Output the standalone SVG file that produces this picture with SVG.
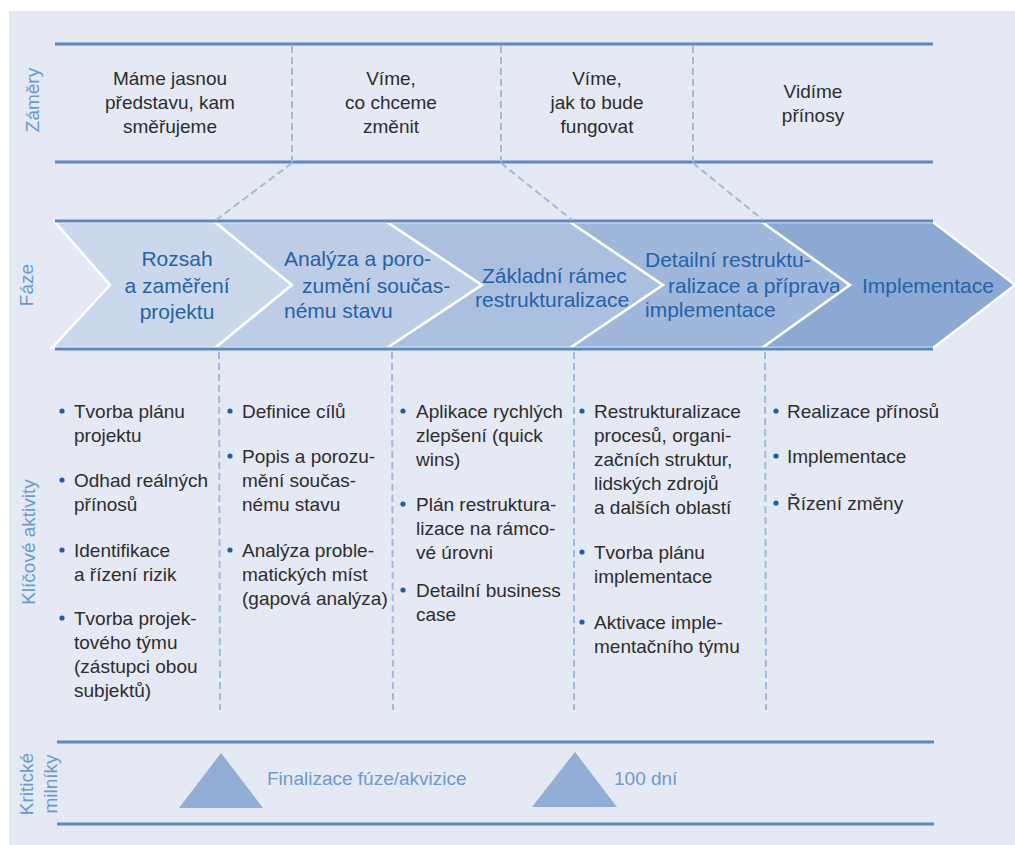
<svg xmlns="http://www.w3.org/2000/svg" width="1015" height="845" viewBox="0 0 1015 845">
<style>
.lbl{font-family:"Liberation Sans",Arial,sans-serif;font-size:19px;fill:#6a9ad0;text-anchor:middle}
.top{font-family:"Liberation Sans",Arial,sans-serif;font-size:19px;fill:#2d2d2d;text-anchor:middle}
.ph{font-family:"Liberation Sans",Arial,sans-serif;font-size:21px;fill:#2462a8}
.act{font-family:"Liberation Sans",Arial,sans-serif;font-size:19px;fill:#2d2d2d}
.ms{font-family:"Liberation Sans",Arial,sans-serif;font-size:19px;fill:#6f98cc}
.rule{stroke:#5a89c3;stroke-width:3;fill:none}
.dash{stroke:#a2badd;stroke-width:2;stroke-dasharray:7 4;fill:none}
.chev{stroke:#ffffff;stroke-width:2.5;stroke-linejoin:miter}
.dot{fill:#1f5fa8}
.tri{fill:#93aed6}
</style>
<rect x="0" y="0" width="1015" height="845" fill="#ffffff"/>
<rect x="9" y="11" width="1006" height="834" fill="#e4e9f4"/>

<g id="lane-labels">
<text class="lbl" transform="translate(39,100) rotate(-90)">Záměry</text>
<text class="lbl" transform="translate(33,285) rotate(-90)">Fáze</text>
<text class="lbl" transform="translate(35,542) rotate(-90)">Klíčové aktivity</text>
<text class="lbl" transform="translate(33,784) rotate(-90)">Kritické</text>
<text class="lbl" transform="translate(57,784) rotate(-90)">milníky</text>
</g>

<g id="phases">
<g id="phase-1">
<polygon class="chev" fill="#cbd8eb" points="55,222 215,222 292,285 215,348 52,348 110,285"/>
<text class="ph" text-anchor="middle"><tspan x="177" y="266">Rozsah</tspan><tspan x="177" y="293">a zaměření</tspan><tspan x="177" y="319">projektu</tspan></text>
</g>
<g id="phase-2">
<polygon class="chev" fill="#bdcde5" points="215,222 387,222 482,285 387,348 215,348 292,285"/>
<text class="ph"><tspan x="284" y="266">Analýza a poro-</tspan><tspan x="302" y="293">zumění součas-</tspan><tspan x="284" y="318">nému stavu</tspan></text>
</g>
<g id="phase-3">
<polygon class="chev" fill="#abc0df" points="387,222 570,222 663,285 570,348 387,348 482,285"/>
<text class="ph"><tspan x="482" y="283">Základní rámec</tspan><tspan x="475" y="307">restrukturalizace</tspan></text>
</g>
<g id="phase-4">
<polygon class="chev" fill="#9fb7da" points="570,222 762,222 850,285 762,348 570,348 663,285"/>
<text class="ph"><tspan x="645" y="267">Detailní restruktu-</tspan><tspan x="668" y="293">ralizace a příprava</tspan><tspan x="645" y="317">implementace</tspan></text>
</g>
<g id="phase-5">
<polygon class="chev" fill="#8ba9d2" points="762,222 933,222 1015,285 933,348 762,348 850,285"/>
<text class="ph" x="862" y="293">Implementace</text>
</g>
</g>

<g id="connectors">
<line class="rule" x1="55" y1="44" x2="933" y2="44"/>
<line class="rule" x1="55" y1="162" x2="933" y2="162"/>
<line class="rule" x1="55" y1="221" x2="933" y2="221"/>
<line class="rule" x1="55" y1="349" x2="933" y2="349"/>
<line class="rule" x1="57" y1="742" x2="934" y2="742"/>
<line class="rule" x1="57" y1="824" x2="934" y2="824"/>
<line class="dash" x1="292" y1="46" x2="292" y2="162"/>
<line class="dash" x1="501" y1="46" x2="501" y2="162"/>
<line class="dash" x1="693" y1="46" x2="693" y2="162"/>
<line class="dash" x1="292" y1="163" x2="216" y2="220"/>
<line class="dash" x1="501" y1="163" x2="572" y2="220"/>
<line class="dash" x1="693" y1="163" x2="763" y2="220"/>
<line class="dash" x1="219" y1="352" x2="220" y2="710"/>
<line class="dash" x1="392" y1="352" x2="393" y2="710"/>
<line class="dash" x1="574" y1="352" x2="574" y2="710"/>
<line class="dash" x1="765" y1="352" x2="766" y2="710"/>
</g>

<g id="intents">
<g id="intent-1"><text class="top"><tspan x="170" y="85">Máme jasnou</tspan><tspan x="170" y="109">představu, kam</tspan><tspan x="170" y="133">směřujeme</tspan></text></g>
<g id="intent-2"><text class="top"><tspan x="391" y="85">Víme,</tspan><tspan x="391" y="109">co chceme</tspan><tspan x="391" y="133">změnit</tspan></text></g>
<g id="intent-3"><text class="top"><tspan x="597" y="85">Víme,</tspan><tspan x="597" y="109">jak to bude</tspan><tspan x="597" y="133">fungovat</tspan></text></g>
<g id="intent-4"><text class="top"><tspan x="813" y="98">Vidíme</tspan><tspan x="813" y="122">přínosy</tspan></text></g>
</g>

<g id="activities">
<g id="activities-1">
<circle class="dot" cx="62" cy="411" r="2.6"/>
<circle class="dot" cx="62" cy="480" r="2.6"/>
<circle class="dot" cx="62" cy="550" r="2.6"/>
<circle class="dot" cx="62" cy="618" r="2.6"/>
<text class="act"><tspan x="74" y="418">Tvorba plánu</tspan><tspan x="74" y="442">projektu</tspan><tspan x="74" y="487">Odhad reálných</tspan><tspan x="74" y="511">přínosů</tspan><tspan x="74" y="557">Identifikace</tspan><tspan x="74" y="581">a řízení rizik</tspan><tspan x="74" y="625">Tvorba projek-</tspan><tspan x="74" y="649">tového týmu</tspan><tspan x="74" y="673">(zástupci obou</tspan><tspan x="74" y="697">subjektů)</tspan></text>
</g>
<g id="activities-2">
<circle class="dot" cx="230" cy="411" r="2.6"/>
<circle class="dot" cx="230" cy="456" r="2.6"/>
<circle class="dot" cx="230" cy="550" r="2.6"/>
<text class="act"><tspan x="242" y="418">Definice cílů</tspan><tspan x="242" y="463">Popis a porozu-</tspan><tspan x="242" y="487">mění součas-</tspan><tspan x="242" y="511">nému stavu</tspan><tspan x="242" y="557">Analýza proble-</tspan><tspan x="242" y="581">matických míst</tspan><tspan x="242" y="605">(gapová analýza)</tspan></text>
</g>
<g id="activities-3">
<circle class="dot" cx="403" cy="411" r="2.6"/>
<circle class="dot" cx="403" cy="504" r="2.6"/>
<circle class="dot" cx="403" cy="590" r="2.6"/>
<text class="act"><tspan x="416" y="418">Aplikace rychlých</tspan><tspan x="416" y="442">zlepšení (quick</tspan><tspan x="416" y="466">wins)</tspan><tspan x="416" y="511">Plán restruktura-</tspan><tspan x="416" y="535">lizace na rámco-</tspan><tspan x="416" y="559">vé úrovni</tspan><tspan x="416" y="597">Detailní business</tspan><tspan x="416" y="621">case</tspan></text>
</g>
<g id="activities-4">
<circle class="dot" cx="582" cy="411" r="2.6"/>
<circle class="dot" cx="582" cy="552" r="2.6"/>
<circle class="dot" cx="582" cy="622" r="2.6"/>
<text class="act"><tspan x="594" y="418">Restrukturalizace</tspan><tspan x="594" y="442">procesů, organi-</tspan><tspan x="594" y="466">začních struktur,</tspan><tspan x="594" y="490">lidských zdrojů</tspan><tspan x="594" y="514">a dalších oblastí</tspan><tspan x="594" y="559">Tvorba plánu</tspan><tspan x="594" y="583">implementace</tspan><tspan x="594" y="629">Aktivace imple-</tspan><tspan x="594" y="653">mentačního týmu</tspan></text>
</g>
<g id="activities-5">
<circle class="dot" cx="776" cy="411" r="2.6"/>
<circle class="dot" cx="776" cy="456" r="2.6"/>
<circle class="dot" cx="776" cy="503" r="2.6"/>
<text class="act"><tspan x="787" y="418">Realizace přínosů</tspan><tspan x="787" y="463">Implementace</tspan><tspan x="787" y="510">Řízení změny</tspan></text>
</g>
</g>

<g id="milestones">
<g id="milestone-1">
<polygon class="tri" points="221,753 263,808 179,808"/>
<text class="ms" x="267" y="785">Finalizace fúze/akvizice</text>
</g>
<g id="milestone-2">
<polygon class="tri" points="575,752 617,807 532,807"/>
<text class="ms" x="614" y="785">100 dní</text>
</g>
</g>
</svg>
